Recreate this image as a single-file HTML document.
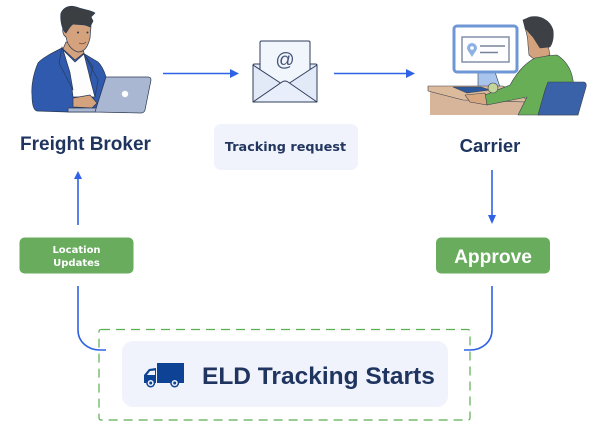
<!DOCTYPE html>
<html><head><meta charset="utf-8"><style>
html,body{margin:0;padding:0;background:#fff;width:600px;height:432px;overflow:hidden}
svg{display:block}
.art{filter:blur(.3px)}
.l{font-family:"Liberation Sans",sans-serif;font-weight:700;fill:#1f3560}
.d{font-family:"DejaVu Sans",sans-serif;font-weight:700}
</style></head><body>
<svg width="600" height="432" viewBox="0 0 600 432" xmlns="http://www.w3.org/2000/svg">
<rect width="600" height="432" fill="#fff"/>
<!-- Broker -->
<g class="art" stroke="#2c3a55" stroke-width=".7" stroke-linejoin="round">
<path d="M62,48 C52,53 42,58 38,63 C34,72 31,85 32,95 C32,103 33,110 37,111 L68,112 L95,112 L106,77 C104,70 101,65 98,62 L83,53 Z" fill="#2f5aae"/>
<path d="M63,50 L75,62 L84,54 L90,78 L95,97 L73,97 L70,73Z" fill="#fdfdfe"/>
<path d="M66,42 L63,49 L75,60 L84,53 L82,46Z" fill="#d4a27c"/>
<path d="M62,47 L59,63 L73,90 L70,73 L63,50Z" fill="#2f5aae"/>
<path d="M84,54 L93,67 L90,78 L95,97 L98,80 Z" fill="#2f5aae"/>
<path d="M63,27 C62,33 64,36 66,37 C67,44 71,50 78,52 C85,52 88,46 90,38 L91,26 L84,18 L68,20Z" fill="#d4a27c"/>
<path d="M66,33 C62,30 60,20 61,13 C64,7 70,5 76,7 C84,10 90,10 95,13 L91,17 L93,21 L90,27 C86,24 80,25 73,24 C70,26 68,30 66,33Z" fill="#3c3f42"/>
<path d="M73,98 L90,95 L97,103 L92,108 L73,107Z" fill="#d4a27c"/>
<path d="M68,108 L97,108 L97,112 L68,112Z" fill="#aab7d3"/>
<path d="M106,77 L148,77 Q151,77 151,80 L145,110 Q144,113 141,113 L95,112 Z" fill="#a9b7d3"/>
</g>
<g class="art" fill="#2c3a55"><circle cx="78" cy="32.500" r="1"/><circle cx="87.500" cy="32.500" r="1"/></g>
<path class="art" d="M79,43 Q83,45 86,42" stroke="#7b4a33" stroke-width=".8" fill="none"/>
<circle cx="125" cy="94" r="3.200" fill="#fff"/>
<!-- Envelope -->
<g class="art" stroke="#2f3d5c" stroke-width="1" stroke-linejoin="round">
<rect x="253" y="64" width="64" height="38" rx="1.500" fill="#e2eaf7"/>
<rect x="260" y="41" width="50" height="42" rx="1.500" fill="#f1f5fc"/>
<path d="M253,65 L282,84 L288,84 L317,65 L317,101 Q317,102 316,102 L254,102 Q253,102 253,101Z" fill="#e2eaf7"/>
<path d="M253,102 L282,82 Q285,80 288,82 L317,102Z" fill="#e9effa"/>
</g>
<text x="285" y="66" text-anchor="middle" font-family="Liberation Sans,sans-serif" font-size="19" fill="#46557a">@</text>
<!-- Carrier -->
<g class="art" stroke="#3a3f4a" stroke-width=".6" stroke-linejoin="round">
<path d="M478,72 L495,72 L500,87 L478,87Z" fill="#a9c4ec"/>
<path d="M430,89 L463,98 L528,100 L535,115 L430,115Z" fill="#d6b59b" stroke="none"/>
<path d="M428,86 L503,86 L528,100 L526,102 L463,100 L428,91Z" fill="#dcbb9d"/>
<path d="M453,87 L481,87 L490,90 L467,93Z" fill="#2d5a9c"/>
<path d="M525,28 C527,34 528,40 528,45 L529,55 L535,60 L550,55 L548,45 L540,42 Z" fill="#d4a27c"/>
<path d="M523,20 L530,17 C540,15 550,20 553,30 C554,38 552,44 550,47 L540,48 L533,37 L525,28Z" fill="#3d4044"/>
<path d="M535,58 C542,57 550,55 557,55 C565,60 571,68 573,80 L578,115 L518,115 L527,97 L487,105 L485,95 L510,85 C514,78 519,71 523,67 C527,63 531,60 535,58Z" fill="#67ae57"/>
<path d="M465,95 L485,93 L487,105 L470,102Z" fill="#d8a880"/>
<circle cx="493" cy="88" r="5" fill="#c5d49b"/>
<path d="M548,82 L584,82 Q587,83 586,87 L578,115 L538,115 L545,90Z" fill="#3a62a8"/>
</g>
<g class="art">
<rect x="454" y="26" width="63" height="46" rx="3" fill="#fff" stroke="#6f97d6" stroke-width="3"/>
<rect x="462" y="37" width="47" height="25" fill="#fdfdff" stroke="#8490a8" stroke-width="1.500"/>
<path d="M472,57 C469,52 467,50 467,48 A5,5 0 0 1 477,48 C477,50 475,52 472,57Z" fill="#8db1e3"/>
<circle cx="472" cy="48" r="1.800" fill="#fff"/>
<path d="M480,46 H505 M480,52.500 H498" stroke="#77839a" stroke-width="1.400"/>
</g>
<!-- Labels -->
<text x="85.500" y="150" text-anchor="middle" class="l" font-size="19">Freight Broker</text>
<text x="490" y="152" text-anchor="middle" class="l" font-size="18.500">Carrier</text>
<rect x="214" y="124" width="144" height="46" rx="7" fill="#f0f3fb"/>
<text x="285.500" y="151" text-anchor="middle" class="d" font-size="12.800" fill="#22365f">Tracking request</text>
<!-- Arrows -->
<g stroke="#2f62e6" stroke-width="1.600" fill="none">
<path d="M163,73.500 H230"/>
<path d="M334,73.500 H406"/>
<path d="M78,225 V178"/>
<path d="M492,170 V217"/>
<path d="M78,286 V330 C78,342 88,350 100,350 H106"/>
<path d="M492,286 V330 C492,342 482,350 470,350 H464"/>
</g>
<g fill="#2f62e6">
<path d="M239,73.500 L230,69 V78Z"/>
<path d="M415,73.500 L406,69 V78Z"/>
<path d="M78,171 L74,179 H82Z"/>
<path d="M492,224 L488,215 H496Z"/>
</g>
<!-- Green boxes -->
<rect x="19.500" y="237.500" width="114" height="36" rx="5" fill="#69ac5e"/>
<text x="76.500" y="253" text-anchor="middle" class="d" font-size="10" fill="#fff">Location</text>
<text x="76.500" y="266" text-anchor="middle" class="d" font-size="10" fill="#fff">Updates</text>
<rect x="436" y="237.500" width="114" height="36" rx="5" fill="#69ac5e"/>
<text x="493" y="263" text-anchor="middle" font-family="Liberation Sans,sans-serif" font-weight="700" font-size="19.200" fill="#fff">Approve</text>
<!-- ELD -->
<rect x="99" y="329.500" width="371" height="90.500" rx="2" fill="none" stroke="#5cae52" stroke-width="1.200" stroke-dasharray="9 6"/>
<rect x="122" y="341" width="326" height="66" rx="11" fill="#f0f3fb"/>
<g fill="#0e4295">
<rect x="157" y="363" width="27" height="20"/>
<path d="M144,383 V375 L149,369 L156,368 V383Z"/>
</g>
<path d="M147,375 L150,371 L155,370.500 V375Z" fill="#f0f3fb"/>
<g>
<circle cx="150.700" cy="383" r="4.500" fill="#0e4295"/><circle cx="150.700" cy="383" r="3" fill="#f0f3fb"/><circle cx="150.700" cy="383" r="1.500" fill="#0e4295"/>
<circle cx="174.700" cy="383" r="4.500" fill="#0e4295"/><circle cx="174.700" cy="383" r="3" fill="#f0f3fb"/><circle cx="174.700" cy="383" r="1.500" fill="#0e4295"/>
</g>
<text x="202" y="384" class="l" font-size="24.500">ELD Tracking Starts</text>
</svg>
</body></html>
